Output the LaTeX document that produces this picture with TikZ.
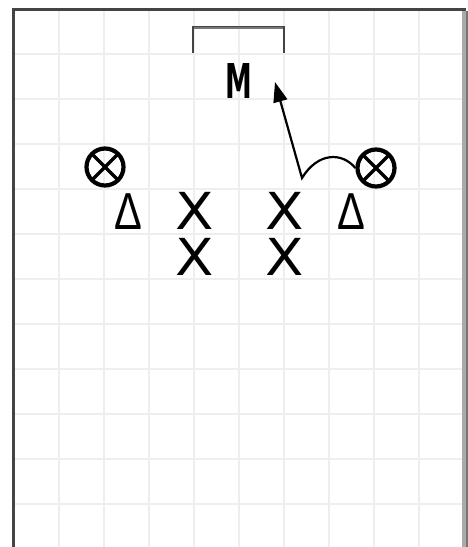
\documentclass[tikz,border=0pt]{standalone}
\usepackage{xcolor}
\usepackage{fontspec}
\usepackage{tikz}
\usetikzlibrary{positioning, arrows.meta}
\newfontfamily\markerfont{DejaVu Sans}
\newfontfamily\conefont{Liberation Sans}
\definecolor{gridgray}{HTML}{EEEEEE}
\definecolor{borderdark}{HTML}{444444}
\definecolor{borderlight}{HTML}{AAAAAA}
\definecolor{goalgray}{HTML}{777777}

\tikzset{
  gridline/.style={gridgray, line width=2pt},
  playerx/.style={inner sep=0pt, font=\markerfont\fontsize{51}{51}\selectfont},
  defender/.style={circle, draw=black, line width=4.2pt, minimum size=37pt, inner sep=0pt,
    path picture={
      \draw[line width=3.4pt] (path picture bounding box.north west) -- (path picture bounding box.south east)
        (path picture bounding box.north east) -- (path picture bounding box.south west);
    }},
  conemark/.style={inner sep=0pt, font=\conefont\fontsize{52}{52}\selectfont},
  runpath/.style={line width=2.2pt, black, -{Triangle[length=20pt,width=14pt]}}
}

\begin{document}
\begin{tikzpicture}[x=1pt, y=-1pt]
    \useasboundingbox (0,0) rectangle (468,547);
    \fill[white] (0,0) rectangle (468,547);
    % field grid
    \foreach \gx in {58.5,103.5,...,420} {
      \draw[gridline] (\gx,11) -- (\gx,547);
    }
    \foreach \gy in {54,99,...,547} {
      \draw[gridline] (15,\gy) -- (462,\gy);
    }
    % border
    \draw[borderdark, line width=3pt] (13.5,547) -- (13.5,9.5) -- (466,9.5);
    \draw[borderlight, line width=4pt] (464,11) -- (464,547);
    \draw[goalgray, line width=2pt] (467,11) -- (467,547);
    % goal
    \draw[borderdark, line width=2.5pt] (193,53) -- (193,27.5) -- (284,27.5) -- (284,53);
    \draw[goalgray, line width=2pt] (194,28) -- (283,28);
    \node[inner sep=0pt, font=\markerfont\bfseries\fontsize{48}{48}\selectfont]
      (keeper) at (239,81) {\scalebox{0.56}[1]{M}};
    % defenders and cones
    \node[defender] (leftdef) at (105,167) {};
    \node[defender] (rightdef) at (376,168) {};
    \node[conemark] (leftcone) at (128,212) {\scalebox{0.8}[1]{Δ}};
    \node[conemark] (rightcone) at (351,212) {\scalebox{0.8}[1]{Δ}};
    % attackers
    \node[playerx] (xa) at (195,211) {\scalebox{1.1}[1]{X}};
    \node[playerx] (xb) at (195,257) {\scalebox{1.1}[1]{X}};
    \node[playerx] (xc) at (285,211) {\scalebox{1.1}[1]{X}};
    \node[playerx] (xd) at (285,257) {\scalebox{1.1}[1]{X}};
    % run towards goal
    \coordinate (cutpoint) at (302,178);
    \coordinate (runend) at (275,82);
    \draw[runpath] (rightdef.west) .. controls (342,152) and (318,152) .. (cutpoint) -- (runend);
\end{tikzpicture}
\end{document}
